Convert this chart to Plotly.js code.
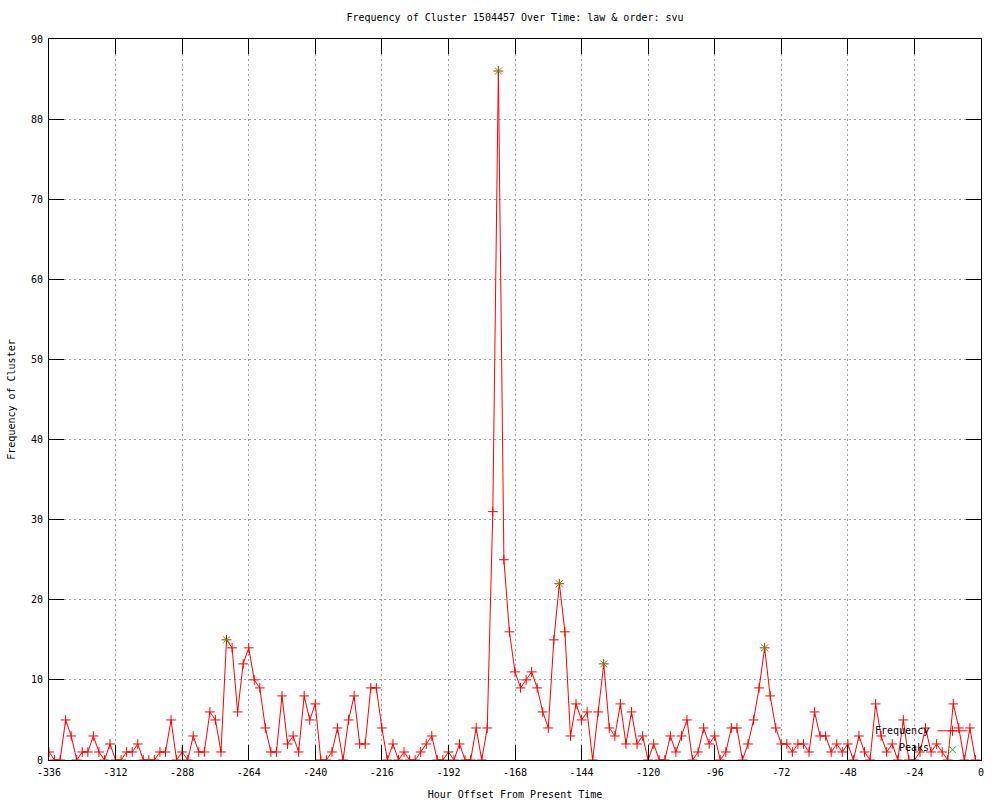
<!DOCTYPE html>
<html>
<head>
<meta charset="utf-8">
<script src="https://cdn.plot.ly/plotly-3.0.1.min.js"></script>
<style>html,body{margin:0;padding:0;background:#fff;}#chart{width:1000px;height:800px;}</style>
</head>
<body>
<div id="chart"></div>
<script>
const hours = [
-336,-334,-332,-330,-328,-326,-324,-322,-320,-318,
-316,-314,-312,-310,-308,-306,-304,-302,-300,-298,
-296,-294,-292,-290,-288,-286,-284,-282,-280,-278,
-276,-274,-272,-270,-268,-266,-264,-262,-260,-258,
-256,-254,-252,-250,-248,-246,-244,-242,-240,-238,
-236,-234,-232,-230,-228,-226,-224,-222,-220,-218,
-216,-214,-212,-210,-208,-206,-204,-202,-200,-198,
-196,-194,-192,-190,-188,-186,-184,-182,-180,-178,
-176,-174,-172,-170,-168,-166,-164,-162,-160,-158,
-156,-154,-152,-150,-148,-146,-144,-142,-140,-138,
-136,-134,-132,-130,-128,-126,-124,-122,-120,-118,
-116,-114,-112,-110,-108,-106,-104,-102,-100,-98,
-96,-94,-92,-90,-88,-86,-84,-82,-80,-78,
-76,-74,-72,-70,-68,-66,-64,-62,-60,-58,
-56,-54,-52,-50,-48,-46,-44,-42,-40,-38,
-36,-34,-32,-30,-28,-26,-24,-22,-20,-18,
-16,-14,-12,-10,-8,-6,-4,-2];

const frequency = [
1,0,0,5,3,0,1,1,3,1,
0,2,0,0,1,1,2,0,0,0,
1,1,5,0,1,0,3,1,1,6,
5,1,15,14,6,12,14,10,9,4,
1,1,8,2,3,1,8,5,7,0,
0,1,4,0,5,8,2,2,9,9,
4,0,2,0,1,0,0,1,2,3,
0,0,1,0,2,0,0,4,0,4,
31,86,25,16,11,9,10,11,9,6,
4,15,22,16,3,7,5,6,0,6,
12,4,3,7,2,6,2,3,0,2,
0,0,3,1,3,5,0,1,4,2,
3,0,1,4,4,0,2,5,9,14,
8,4,2,2,1,2,2,1,6,3,
3,1,2,1,2,0,3,1,0,7,
3,1,2,0,5,0,0,1,4,1,
2,1,0,7,4,0,4,0];

const peakHours = [-272, -174, -152, -136, -78];
const peakValues = [15, 86, 22, 12, 14];

const xTickVals = [-336,-312,-288,-264,-240,-216,-192,-168,-144,-120,-96,-72,-48,-24,0];
const xTickText = ["-336","-312","-288","-264","-240","-216","-192","-168","-144","-120","-96","-72","-48","-24","0"];
const yTickVals = [0,10,20,30,40,50,60,70,80,90];

const titleText = "Frequency of Cluster 1504457 Over Time: law & order: svu";
const xTitle = "Hour Offset From Present Time";
const yTitle = "Frequency of Cluster";
const seriesNames = ["Frequency", "Peaks"];

const FONT = "DejaVu Sans Mono, monospace";

const traces = [
  {
    x: hours, y: frequency, type: "scatter", mode: "lines+markers",
    name: " ",
    line: {color: "#ff0000", width: 1},
    marker: {symbol: "cross-thin-open", size: 7, line: {color: "#ff0000", width: 1}, color: "#ff0000"}
  },
  {
    x: peakHours, y: peakValues, type: "scatter", mode: "markers",
    name: " ",
    marker: {symbol: "x-thin-open", size: 7, line: {color: "#00c000", width: 1}, color: "#00c000"}
  }
];

const axisCommon = {
  showline: true, linecolor: "#000", linewidth: 1, mirror: "allticks",
  ticks: "inside", ticklen: 15, tickcolor: "#000", tickwidth: 1,
  showgrid: true, gridcolor: "#a0a0a0", gridwidth: 1, griddash: "2px,3px",
  zeroline: false, tickfont: {family: FONT, size: 10, color: "#000"},
  ticklabelstandoff: 3
};

const layout = {
  width: 1000, height: 800,
  paper_bgcolor: "#fff", plot_bgcolor: "#fff",
  margin: {l: 49, r: 19, t: 39, b: 40, pad: 0},
  font: {family: FONT, size: 10, color: "#000"},
  title: {text: titleText, font: {family: FONT, size: 10, color: "#000"}, x: 0.515, xanchor: "center", y: 0.978, yanchor: "middle"},
  xaxis: Object.assign({}, axisCommon, {
    range: [-336, 0], tickmode: "array", tickvals: xTickVals, ticktext: xTickText,
    title: {text: xTitle, font: {family: FONT, size: 10, color: "#000"}, standoff: 14}
  }),
  yaxis: Object.assign({}, axisCommon, {
    range: [0, 90], tickmode: "array", tickvals: yTickVals,
    title: {text: yTitle, font: {family: FONT, size: 10, color: "#000"}, standoff: 13}
  }),
  showlegend: true,
  legend: {x: 0.948, xanchor: "left", y: -0.006, yanchor: "bottom", bgcolor: "rgba(0,0,0,0)", borderwidth: 0,
           font: {family: FONT, size: 10}, itemwidth: 30, tracegroupgap: 0},
  annotations: [
    {text: seriesNames[0], xref: "paper", yref: "paper", x: 0.946, y: 0.0416, xanchor: "right", yanchor: "middle", showarrow: false, font: {family: FONT, size: 10, color: "#000"}},
    {text: seriesNames[1], xref: "paper", yref: "paper", x: 0.946, y: 0.0175, xanchor: "right", yanchor: "middle", showarrow: false, font: {family: FONT, size: 10, color: "#000"}}
  ]
};

Plotly.newPlot("chart", traces, layout, {displayModeBar: false, staticPlot: true});
</script>
</body>
</html>
